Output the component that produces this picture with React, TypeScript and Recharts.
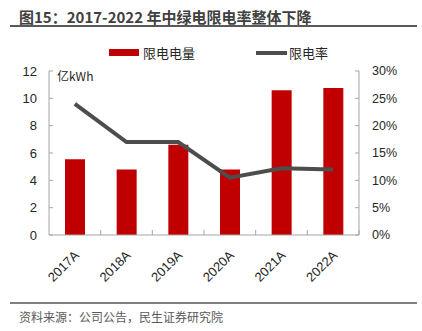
import React from 'react';
import { ComposedChart, Bar, Line, XAxis, YAxis } from 'recharts';

const years = ['2017A', '2018A', '2019A', '2020A', '2021A', '2022A'];
const curtailedPower = [5.55, 4.8, 6.6, 4.8, 10.6, 10.75];
const curtailmentRate = [24, 17, 17, 10.5, 12.2, 12];
const leftTicks = [0, 2, 4, 6, 8, 10, 12];
const rightTicks = [0, 5, 10, 15, 20, 25, 30];

const data = years.map((year, i) => ({
  year,
  power: curtailedPower[i],
  rate: curtailmentRate[i],
}));

const FONT = '"Liberation Sans", "Noto Sans CJK SC", sans-serif';
const CJK = '"Noto Sans CJK SC", "Liberation Sans", sans-serif';
const AXIS = '#a6a6a6';
const TEXT = '#262626';

const W = 422;
const H = 331;
const margin = { top: 71, right: 13, bottom: 36, left: 9 };
const plotLeft = 49;
const plotRight = 359;
const bottomY = H - margin.bottom - 60;
const band = (plotRight - plotLeft) / years.length;

const XTick = (props: any) => {
  const { x, y, payload } = props;
  const half = payload && payload.offset ? payload.offset : band / 2;
  return (
    <g>
      <line x1={x + half} x2={x + half} y1={bottomY} y2={bottomY - 5} stroke={AXIS} />
      <g transform={`translate(${x + 5},${y + 21})`}>
        <text textAnchor="end" transform="rotate(-45)" fontSize={13} fill={TEXT} fontFamily={FONT}>
          {payload.value}
        </text>
      </g>
    </g>
  );
};

const App: React.FC = () => {
  return (
    <div style={{ position: 'absolute', left: 0, top: 0, width: W, height: H, background: '#fff', fontFamily: CJK }}>
      <div style={{ position: 'absolute', left: 19, top: 6, fontSize: 15, fontWeight: 'bold', color: '#404040', whiteSpace: 'nowrap' }}>
        图15：2017-2022 年中绿电限电率整体下降
      </div>
      <div style={{ position: 'absolute', left: 10, top: 25, width: 407, height: 2, background: '#595959' }} />

      <div style={{ position: 'absolute', left: 109, top: 43, display: 'flex', alignItems: 'center', fontSize: 13, color: TEXT }}>
        <span style={{ display: 'inline-block', width: 30, height: 7, background: '#c00000', marginRight: 4 }} />
        限电电量
      </div>
      <div style={{ position: 'absolute', left: 256, top: 43, display: 'flex', alignItems: 'center', fontSize: 13, color: TEXT }}>
        <span style={{ display: 'inline-block', width: 31, height: 4, background: '#4d4d4d', marginRight: 2 }} />
        限电率
      </div>

      <div style={{ position: 'absolute', left: 57, top: 67, fontSize: 12, color: TEXT }}>亿kWh</div>

      <div style={{ position: 'absolute', left: 0, top: 0 }}>
        <ComposedChart width={W} height={H} data={data} margin={margin} barCategoryGap="61%">
          <XAxis
            dataKey="year"
            height={60}
            stroke={AXIS}
            tickLine={false}
            tickSize={0}
            tickMargin={0}
            tick={<XTick />}
            interval={0}
          />
          <YAxis
            yAxisId="left"
            orientation="left"
            width={40}
            domain={[0, 12]}
            ticks={leftTicks}
            stroke={AXIS}
            tickSize={-4}
            tickMargin={16}
            tick={{ fontSize: 13, fill: TEXT, fontFamily: FONT }}
          />
          <YAxis
            yAxisId="right"
            orientation="right"
            width={50}
            domain={[0, 30]}
            ticks={rightTicks}
            stroke={AXIS}
            tickSize={-4}
            tickMargin={17}
            tickFormatter={(v: number) => `${v}%`}
            tick={{ fontSize: 12.5, fill: TEXT, fontFamily: FONT, textAnchor: 'start' }}
          />
          <Bar yAxisId="left" dataKey="power" fill="#c00000" barSize={20} isAnimationActive={false} />
          <Line
            yAxisId="right"
            dataKey="rate"
            type="linear"
            stroke="#4d4d4d"
            strokeWidth={4}
            dot={false}
            isAnimationActive={false}
          />
        </ComposedChart>
      </div>

      <div style={{ position: 'absolute', left: 10, top: 302, width: 407, height: 2, background: '#7f7f7f' }} />
      <div style={{ position: 'absolute', left: 19, top: 308, fontSize: 12, color: '#595959', whiteSpace: 'nowrap' }}>
        资料来源：公司公告，民生证券研究院
      </div>
    </div>
  );
};

export default App;
